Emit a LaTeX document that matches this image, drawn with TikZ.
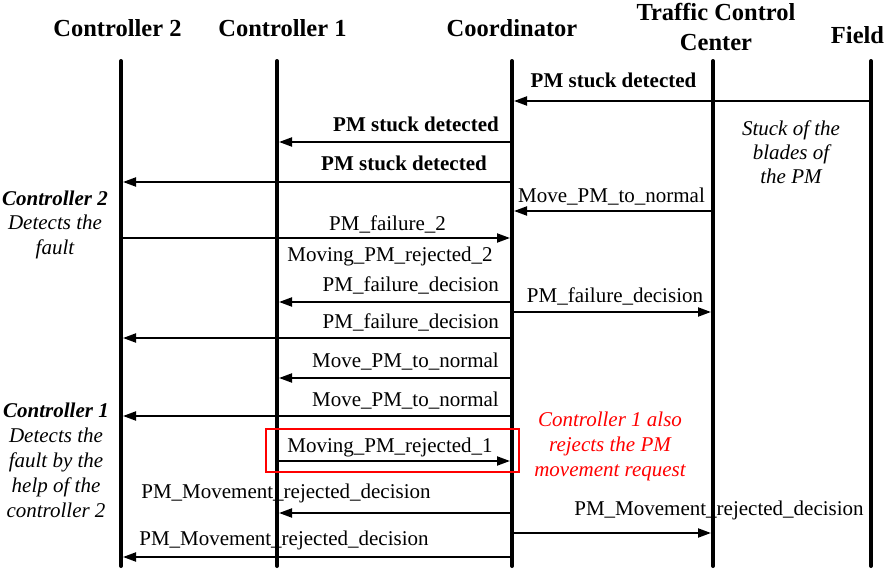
\documentclass[tikz,border=0pt]{standalone}
\usepackage{fontspec}
\setmainfont{Liberation Serif}[BoldFont={Liberation Serif Bold},ItalicFont={Liberation Serif Italic},BoldItalicFont={Liberation Serif Bold Italic}]
\usetikzlibrary{arrows.meta}
\begin{document}
\begin{tikzpicture}[x=1pt,y=-1pt,
  life/.style={line width=4pt,line cap=round},
  msg/.style={line width=2pt,-{Triangle[length=13pt,width=9pt]},shorten >=2pt},
  hdr/.style={font=\fontsize{24.5}{30}\selectfont\bfseries,inner sep=0pt,align=center},
  lbl/.style={font=\fontsize{21}{24.5}\selectfont,inner sep=0pt},
  blbl/.style={font=\fontsize{21}{24.5}\selectfont\bfseries,inner sep=0pt},
  note/.style={font=\fontsize{21}{24.5}\selectfont\itshape,inner sep=0pt,align=center},
  rednote/.style={note,text=red},
  hl/.style={draw=red,line width=1.2pt}]
\useasboundingbox (0,0) rectangle (891,570);
% headers
\node[hdr,anchor=base] (h2) at (117.5,36) {Controller 2};
\node[hdr,anchor=base] (h1) at (282.5,36) {Controller 1};
\node[hdr,anchor=base] (hco) at (512,36) {Coordinator};
\node[hdr,anchor=base] (htc) at (716,50) {Traffic Control\\Center};
\node[hdr,anchor=base] (hf) at (857.5,43) {Field};
% lifeline ends
\coordinate (c2) at (121,61);  \coordinate (c2e) at (121,566);
\coordinate (c1) at (277,61);  \coordinate (c1e) at (277,566);
\coordinate (co) at (512,61);  \coordinate (coe) at (512,566);
\coordinate (tc) at (713,61);  \coordinate (tce) at (713,566);
\coordinate (fd) at (871,61);  \coordinate (fde) at (871,566);
% labels
\node[blbl,anchor=base] (l1) at (613.5,87) {PM stuck detected};
\node[blbl,anchor=base east] (l2) at (499,131) {PM stuck detected};
\node[blbl,anchor=base east] (l3) at (487,170) {PM stuck detected};
\node[lbl,anchor=base] (l4) at (611.5,202) {Move\_PM\_to\_normal};
\node[lbl,anchor=base] (l5) at (387.5,230) {PM\_failure\_2};
\node[lbl,anchor=base] (l6) at (390,261) {Moving\_PM\_rejected\_2};
\node[lbl,anchor=base east] (l7) at (499,291) {PM\_failure\_decision};
\node[lbl,anchor=base] (l8) at (615,302) {PM\_failure\_decision};
\node[lbl,anchor=base east] (l9) at (499,328) {PM\_failure\_decision};
\node[lbl,anchor=base east] (l10) at (499,367) {Move\_PM\_to\_normal};
\node[lbl,anchor=base east] (l11) at (499,406) {Move\_PM\_to\_normal};
\node[lbl,anchor=base] (l12) at (390,452) {Moving\_PM\_rejected\_1};
\node[lbl,anchor=base] (l13) at (286,498) {PM\_Movement\_rejected\_decision};
\node[lbl,anchor=base] (l14) at (719,515) {PM\_Movement\_rejected\_decision};
\node[lbl,anchor=base] (l15) at (284,545) {PM\_Movement\_rejected\_decision};
% notes (base anchor = baseline of last line)
\node[note,anchor=base] (n2) at (55,254) {\textbf{Controller 2}\\Detects the\\fault};
\node[note,anchor=base,font=\fontsize{21}{25}\selectfont\itshape] (n1) at (56,517) {\textbf{Controller 1}\\Detects the\\fault by the\\help of the\\controller 2};
\node[note,anchor=base,font=\fontsize{21}{24}\selectfont\itshape] (nf) at (791,183) {Stuck of the\\blades of\\the PM};
\node[rednote,anchor=base,font=\fontsize{21}{25}\selectfont\itshape] (nr) at (610,476) {Controller 1 also\\rejects the PM\\movement request};
% lifelines
\draw[life] (c2) -- (c2e);
\draw[life] (c1) -- (c1e);
\draw[life] (co) -- (coe);
\draw[life] (tc) -- (tce);
\draw[life] (fd) -- (fde);
% messages
\draw[msg] (fd |- 0,101) -- (co |- 0,101);
\draw[msg] (co |- 0,142) -- (c1 |- 0,142);
\draw[msg] (co |- 0,182) -- (c2 |- 0,182);
\draw[msg] (tc |- 0,211) -- (co |- 0,211);
\draw[msg] (c2 |- 0,238) -- (co |- 0,238);
\draw[msg] (co |- 0,302) -- (c1 |- 0,302);
\draw[msg] (co |- 0,312) -- (tc |- 0,312);
\draw[msg] (co |- 0,338) -- (c2 |- 0,338);
\draw[msg] (co |- 0,378) -- (c1 |- 0,378);
\draw[msg] (co |- 0,416) -- (c2 |- 0,416);
\draw[msg] (c1 |- 0,461) -- (co |- 0,461);
\draw[msg] (co |- 0,513) -- (c1 |- 0,513);
\draw[msg] (co |- 0,533) -- (tc |- 0,533);
\draw[msg] (co |- 0,557) -- (c2 |- 0,557);
% highlight box
\draw[hl] (266,429) rectangle (519,472);
\end{tikzpicture}
\end{document}
